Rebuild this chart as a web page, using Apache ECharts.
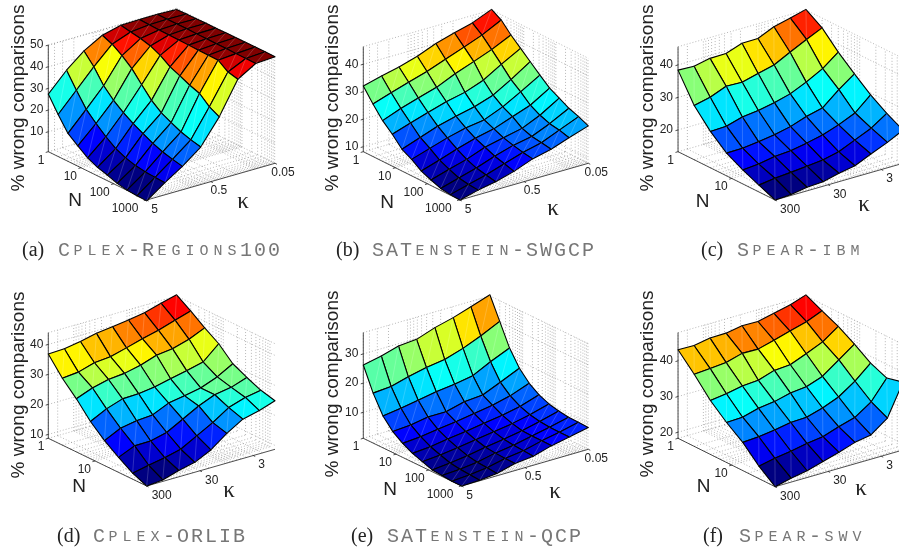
<!DOCTYPE html>
<html>
<head>
<meta charset="utf-8">
<style>html,body{margin:0;padding:0;background:#fff}#main{width:899px;height:552px}</style>
<script src="https://cdn.jsdelivr.net/npm/echarts@6/dist/echarts.min.js"></script>
</head>
<body>
<div id="main"></div>
<script>
// N and kappa values of the surface vertices
const nLong = [1, 2, 4, 8, 16, 32, 64, 128, 256, 512, 1024];
const nShort = [1, 2, 4, 8, 16, 32, 64];
const nOrlib = [1, 2, 4, 8, 16, 32, 64, 128];
const kSmall = [5, 2.6, 1.39, 0.72, 0.37, 0.19, 0.1, 0.05];
const kLarge = [300, 150, 75, 37.5, 18.75, 9.4, 4.7, 2.3, 1.17];

// % wrong comparisons, one row per N, one column per kappa
const zRegions = [
  [27.4, 36, 42.6, 47.4, 49.6, 49.8, 49.8, 49.5],
  [20.2, 29, 37.5, 45.5, 48.7, 49.6, 49.8, 49.6],
  [13.7, 22.4, 31, 42.5, 47.9, 49.4, 49.8, 49.7],
  [10.2, 18.1, 26.5, 38.7, 46.7, 49.3, 49.8, 49.8],
  [6.9, 14.2, 23, 33.5, 44.6, 49.2, 49.7, 49.8],
  [4.7, 11, 20.2, 28.5, 41.5, 49.1, 49.7, 49.9],
  [3.4, 8.9, 17.8, 25, 39.6, 49, 49.6, 49.9],
  [1.8, 7.6, 15.5, 22.7, 37.5, 48.9, 49.6, 50],
  [0.9, 6.9, 13.8, 20.6, 35.9, 48.8, 49.5, 50],
  [0.5, 6.6, 12.6, 19.2, 32, 45.6, 49.5, 50],
  [0.4, 6.4, 11.6, 18.1, 29.6, 44.5, 49.4, 50]
];
const zSwgcp = [
  [32.1, 33.8, 35.3, 37.3, 40, 42, 43.7, 46.6],
  [27.3, 29.5, 31.5, 33.5, 36, 38.5, 41, 44.5],
  [23, 25.5, 27.5, 29.5, 32.5, 35, 37.5, 40.8],
  [19.8, 22, 24, 26, 27.5, 30, 33.9, 37.7],
  [16.1, 18.5, 20.8, 22.5, 24, 26.3, 30.1, 34.6],
  [14.2, 16.3, 18.3, 20, 21, 23.8, 27.4, 31.5],
  [11.7, 13.8, 16, 18, 19.5, 22, 24.3, 28.5],
  [10.2, 12.2, 14, 16.5, 18, 19.5, 22.4, 26.6],
  [8.9, 10.8, 12.6, 15, 17, 18.3, 21.1, 24.7],
  [8.4, 10.2, 11.8, 14, 16.2, 17.8, 20.5, 23.4],
  [8.2, 9.9, 11.1, 13, 15.6, 17.2, 19.5, 21.8]
];
const zIbm = [
  [38.4, 38.2, 39.2, 39.3, 41, 41.1, 43.3, 44.5, 45.8],
  [30, 31.1, 33.1, 32.9, 34.2, 35.4, 37.9, 40.4, 42.6],
  [24.5, 24.7, 26.1, 26.7, 27.7, 29, 31.2, 33.9, 37.6],
  [20.3, 20.4, 21, 21.7, 22.8, 24.5, 25.7, 29.9, 33.4],
  [17.6, 18, 18.9, 19.3, 20.2, 21.3, 23, 25.2, 29.4],
  [15.4, 16.1, 16.5, 17, 17.5, 18.6, 20.8, 23, 26.2],
  [13.3, 13.6, 14.4, 14.7, 15.9, 16.8, 19, 21.1, 23.5]
];
const zOrlib = [
  [36.8, 37, 37.9, 39.1, 39.8, 40.5, 41.4, 43, 44.3],
  [31, 31.5, 33.1, 33.6, 35, 36.5, 37.8, 39.6, 41.2],
  [26.4, 28.5, 29.8, 30.3, 31.5, 33.3, 33.9, 35.5, 37.8],
  [21.1, 23.8, 25.6, 25.8, 26.5, 27.7, 28.9, 30.2, 34.8],
  [17, 19.6, 20.6, 21, 23.4, 24.3, 25.4, 27.5, 30.4],
  [13.7, 16, 16.1, 17.4, 20.3, 23.2, 25.4, 26.3, 28.1],
  [10.7, 11.8, 12.8, 14.1, 17, 19.9, 23.4, 25.2, 26.1],
  [8.7, 9.2, 10.8, 12, 14.6, 18.6, 21.8, 23.1, 24.9]
];
const zQcp = [
  [26.2, 27.5, 29.2, 29.7, 31.9, 33.5, 35.5, 37.7],
  [18.2, 18.7, 20.3, 21.7, 22.6, 24.6, 27.1, 30.2],
  [12, 12.9, 13.9, 15, 15.8, 16.9, 19.9, 22.7],
  [8.3, 8.8, 9.8, 9.8, 11.4, 11.9, 14.5, 17.4],
  [5.9, 6.4, 7.2, 8, 9, 10, 11.5, 13.9],
  [4.1, 4.6, 5.5, 6.3, 7.3, 8.2, 9.5, 11.6],
  [2.9, 3.4, 4.2, 5.1, 6, 7, 8.3, 10.1],
  [1.7, 2.3, 3.1, 4.2, 5.1, 6.2, 7.6, 9.3],
  [1.4, 1.8, 2.5, 3.8, 4.7, 6, 7.3, 8.8],
  [1.1, 1.5, 2.2, 3.6, 4.4, 6, 7.2, 8.7],
  [1.1, 1.3, 1.9, 3.5, 4.2, 6, 7.2, 8.6]
];
const zSwv = [
  [43.1, 43, 43.8, 43.9, 44.7, 44.6, 45.6, 46.7, 48.2],
  [38.5, 38.8, 39.2, 40.5, 40.4, 41.6, 42.9, 44.2, 46],
  [33.4, 34, 34.9, 35.2, 36.7, 37, 38.8, 40.8, 43.9],
  [29.5, 29.7, 30.9, 31.5, 32.6, 33.1, 34.7, 38, 41.2],
  [26.2, 26.5, 27.1, 27.9, 28.1, 29.4, 31.2, 34.3, 38.1],
  [21.8, 22.7, 23.4, 24.3, 24.9, 26.4, 27.7, 30.8, 36.2],
  [18.3, 19.4, 20.2, 21.5, 22.8, 24.3, 25.1, 28.5, 37.3]
];

// tick labels
const nTicksLong = [1, 10, 100, 1000];
const nTicksShort = [1, 10];
const kTicksSmall = [5, 0.5, 0.05];
const kTicksLarge = [300, 30, 3];

// plot box of every panel: L left corner, F front corner, R right corner, in panel pixels
const panels = [
  { tag: '(a)', name: 'Cplex-Regions100', capX: 22, capY: 241, ox: 0, oy: 0, L: [48.3, 151.7], F: [146.7, 200], R: [275, 163.3], zFloor: 0.8, zTop: 50, zPx: 2.167, ns: nLong, ks: kSmall, zs: zRegions, nTicks: nTicksLong, kTicks: kTicksSmall, zTicks: [10, 20, 30, 40, 50], nMax: 1024, kRange: [5, 0.05], yTitle: [18.5, 98], nPos: [75, 201], kPos: [243, 202] },
  { tag: '(b)', name: 'SATenstein-SWGCP', capX: 336, capY: 241, ox: 300, oy: 0, L: [63.3, 151.7], F: [160, 200], R: [288.3, 163.3], zFloor: 8.2, zTop: 46.4, zPx: 2.75, ns: nLong, ks: kSmall, zs: zSwgcp, nTicks: nTicksLong, kTicks: kTicksSmall, zTicks: [10, 20, 30, 40], nMax: 1024, kRange: [5, 0.05], yTitle: [32.5, 98], nPos: [87, 203], kPos: [253, 209] },
  { tag: '(c)', name: 'Spear-ibm', capX: 701, capY: 241, ox: 600, oy: 0, L: [78.3, 151.7], F: [175.7, 200], R: [304, 163.3], zFloor: 13.3, zTop: 45.6, zPx: 3.25, ns: nShort, ks: kLarge, zs: zIbm, nTicks: nTicksShort, kTicks: kTicksLarge, zTicks: [20, 30, 40], nMax: 64, kRange: [300, 1.17], yTitle: [47.5, 98], nPos: [103, 202], kPos: [265, 205] },
  { tag: '(d)', name: 'Cplex-ORLIB', capX: 57, capY: 527, ox: 0, oy: 280, L: [48.3, 158.3], F: [146.7, 206], R: [275, 169.3], zFloor: 8.7, zTop: 43.9, zPx: 3, ns: nOrlib, ks: kLarge, zs: zOrlib, nTicks: nTicksShort, kTicks: kTicksLarge, zTicks: [10, 20, 30, 40], nMax: 128, kRange: [300, 1.17], yTitle: [18.5, 105], nPos: [79, 207], kPos: [229, 211] },
  { tag: '(e)', name: 'SATenstein-QCP', capX: 351, capY: 527, ox: 300, oy: 280, L: [63.3, 158.3], F: [161.7, 206], R: [288.3, 169.3], zFloor: 1.1, zTop: 37.3, zPx: 2.92, ns: nLong, ks: kSmall, zs: zQcp, nTicks: nTicksLong, kTicks: kTicksSmall, zTicks: [10, 20, 30], nMax: 1024, kRange: [5, 0.05], yTitle: [32.5, 104], nPos: [90, 210], kPos: [255, 212] },
  { tag: '(f)', name: 'Spear-swv', capX: 703, capY: 527, ox: 600, oy: 280, L: [78.3, 158.3], F: [175.7, 206.7], R: [304, 170], zFloor: 18.3, zTop: 47.9, zPx: 3.57, ns: nShort, ks: kLarge, zs: zSwv, nTicks: nTicksShort, kTicks: kTicksLarge, zTicks: [20, 30, 40], nMax: 64, kRange: [300, 1.17], yTitle: [47.5, 104], nPos: [104, 207], kPos: [262, 209] }
];

const SANS = '"Liberation Sans", Arial, sans-serif';

function jet(t) {
  t = Math.floor(Math.min(Math.max(t, 0), 0.9999) * 64) / 63;
  const c = v => Math.round(255 * Math.min(Math.max(1.5 - Math.abs(v), 0), 1));
  return 'rgb(' + c(4 * t - 3) + ',' + c(4 * t - 2) + ',' + c(4 * t - 1) + ')';
}

function fracN(p, n) { return Math.log(n) / Math.log(p.nMax); }
function fracK(p, k) { return Math.log(p.kRange[0] / k) / Math.log(p.kRange[0] / p.kRange[1]); }

// orthographic view, same as the plot box
function project(p, fn, fk, z) {
  return [
    p.L[0] + fn * (p.F[0] - p.L[0]) + fk * (p.R[0] - p.F[0]),
    p.L[1] + fn * (p.F[1] - p.L[1]) + fk * (p.R[1] - p.F[1]) - (z - p.zFloor) * p.zPx
  ];
}

// log grid lines between lo and hi
function logGrid(lo, hi) {
  const out = [];
  for (let d = Math.floor(Math.log10(lo)); d <= Math.ceil(Math.log10(hi)); d++) {
    for (let m = 1; m < 10; m++) {
      const v = m * Math.pow(10, d);
      if (v >= lo * 0.999 && v <= hi * 1.001) out.push(v);
    }
  }
  return out;
}

function wallSegments(p) {
  const seg = [];
  logGrid(1, p.nMax).forEach(n => {
    const f = fracN(p, n);
    seg.push([f, 0, p.zFloor, f, 1, p.zFloor]);
    seg.push([f, 1, p.zFloor, f, 1, p.zTop]);
  });
  logGrid(p.kRange[1], p.kRange[0]).forEach(k => {
    const f = fracK(p, k);
    seg.push([0, f, p.zFloor, 1, f, p.zFloor]);
    seg.push([0, f, p.zFloor, 0, f, p.zTop]);
  });
  p.zTicks.concat([p.zTop]).forEach(z => {
    seg.push([0, 0, z, 0, 1, z]);
    seg.push([0, 1, z, 1, 1, z]);
  });
  return seg;
}

function axisSegments(p) {
  const seg = [
    [0, 0, p.zFloor, 1, 0, p.zFloor],
    [1, 0, p.zFloor, 1, 1, p.zFloor],
    [0, 0, p.zFloor, 0, 0, p.zTop]
  ];
  p.zTicks.forEach(z => seg.push([0, 0, z, 0, -0.02, z]));
  p.nTicks.forEach(n => seg.push([fracN(p, n), 0, p.zFloor, fracN(p, n), -0.02, p.zFloor]));
  p.kTicks.forEach(k => seg.push([1, fracK(p, k), p.zFloor, 1.02, fracK(p, k), p.zFloor]));
  return seg;
}

function surfaceCells(p) {
  const cells = [];
  for (let r = 0; r < p.zs.length - 1; r++) {
    for (let c = p.zs[0].length - 2; c >= 0; c--) cells.push([r, c]);
  }
  return cells;
}

function textLabels(p) {
  const out = [];
  const large = p.kTicks === kTicksLarge;
  p.zTicks.forEach(z => out.push({ at: project(p, 0, 0, z), dx: -5, dy: 0, text: String(z), align: 'right', size: 12 }));
  p.nTicks.forEach(n => out.push({ at: project(p, fracN(p, n), 0, p.zFloor), dx: n >= 1000 ? -8 : -4, dy: 8.5, text: String(n), align: 'right', size: 12 }));
  p.kTicks.forEach(k => out.push({ at: project(p, 1, fracK(p, k), p.zFloor), dx: large ? 5 : 8, dy: 9.5, text: String(k), align: large ? 'left' : 'center', size: 12 }));
  out.push({ at: p.yTitle, dx: 0, dy: 0, text: '% wrong comparisons', align: 'center', size: 19, rotate: Math.PI / 2 });
  out.push({ at: p.nPos, dx: 0, dy: 0, text: 'N', align: 'center', size: 19 });
  out.push({ at: p.kPos, dx: 0, dy: 0, text: 'κ', align: 'center', size: 23, family: '"Liberation Serif", serif' });
  return out;
}

function lineSeries(i, data, stroke, width, dash, z) {
  const p = panels[i];
  return {
    type: 'custom', xAxisIndex: i, yAxisIndex: i, z: z, silent: true, clip: false,
    data: data,
    renderItem: (params, api) => {
      const a = api.coord(project(p, api.value(0), api.value(1), api.value(2)));
      const b = api.coord(project(p, api.value(3), api.value(4), api.value(5)));
      return {
        type: 'line',
        shape: { x1: a[0], y1: a[1], x2: b[0], y2: b[1] },
        style: { stroke: stroke, lineWidth: width, lineDash: dash, fill: null }
      };
    }
  };
}

function surfaceSeries(i) {
  const p = panels[i];
  const flat = p.zs.reduce((a, b) => a.concat(b), []);
  const lo = Math.min.apply(null, flat), hi = Math.max.apply(null, flat);
  return {
    type: 'custom', xAxisIndex: i, yAxisIndex: i, z: 3, silent: true, clip: false,
    data: surfaceCells(p),
    renderItem: (params, api) => {
      const r = api.value(0), c = api.value(1);
      const pt = (rr, cc) => api.coord(project(p, fracN(p, p.ns[rr]), fracK(p, p.ks[cc]), p.zs[rr][cc]));
      const a = pt(r, c), b = pt(r, c + 1), d = pt(r + 1, c + 1), e = pt(r + 1, c);
      return {
        type: 'group',
        children: [
          { type: 'polygon', shape: { points: [a, b, d, e] }, style: { fill: jet((p.zs[r + 1][c] - lo) / (hi - lo)), stroke: '#000', lineWidth: 1.1, lineJoin: 'round' } },
          { type: 'line', shape: { x1: b[0], y1: b[1], x2: e[0], y2: e[1] }, style: { stroke: 'rgba(255,255,255,0.3)', lineWidth: 0.6, fill: null } }
        ]
      };
    }
  };
}

function labelSeries(i) {
  const p = panels[i];
  const labels = textLabels(p);
  return {
    type: 'custom', xAxisIndex: i, yAxisIndex: i, z: 4, silent: true, clip: false,
    data: labels.map((l, k) => [k]),
    renderItem: (params, api) => {
      const l = labels[params.dataIndex];
      const pos = api.coord(l.at);
      return {
        type: 'text', x: pos[0] + l.dx, y: pos[1] + l.dy, rotation: l.rotate || 0,
        style: { text: l.text, fontFamily: l.family || SANS, fontSize: l.size, fill: '#222', align: l.align, verticalAlign: 'middle' }
      };
    }
  };
}

// small caps caption: lower case letters are drawn as small capitals
function captionText(p) {
  let s = '{r|' + p.tag + '}';
  p.name.split('').forEach(ch => {
    const low = ch >= 'a' && ch <= 'z';
    s += (low ? '{s|' : '{b|') + ch.toUpperCase() + '}';
  });
  return s;
}

const grids = [], xAxes = [], yAxes = [], series = [], titles = [];
panels.forEach((p, i) => {
  grids.push({ left: p.ox, top: p.oy, width: 300, height: 272, show: false });
  xAxes.push({ gridIndex: i, type: 'value', min: 0, max: 300, show: false });
  yAxes.push({ gridIndex: i, type: 'value', min: 0, max: 272, inverse: true, show: false });
  series.push(lineSeries(i, wallSegments(p), '#888', 0.6, [1, 2], 1));
  series.push(lineSeries(i, axisSegments(p), '#222', 0.8, null, 2));
  series.push(surfaceSeries(i));
  series.push(labelSeries(i));
  titles.push({
    text: captionText(p),
    left: p.capX,
    top: p.capY,
    padding: 0,
    textStyle: {
      rich: {
        r: { fontFamily: '"Liberation Serif", serif', fontSize: 20, fontWeight: 'normal', color: '#222', width: 35, align: 'left' },
        b: { fontFamily: '"Liberation Mono", monospace', fontSize: 20, fontWeight: 'normal', color: '#777', width: 14, align: 'center' },
        s: { fontFamily: '"Liberation Mono", monospace', fontSize: 15, fontWeight: 'normal', color: '#777', width: 14, align: 'center' }
      }
    }
  });
});

const chart = echarts.init(document.getElementById('main'), null, { renderer: 'canvas' });
chart.setOption({
  animation: false,
  backgroundColor: '#fff',
  title: titles,
  grid: grids,
  xAxis: xAxes,
  yAxis: yAxes,
  series: series
});
</script>
</body>
</html>
